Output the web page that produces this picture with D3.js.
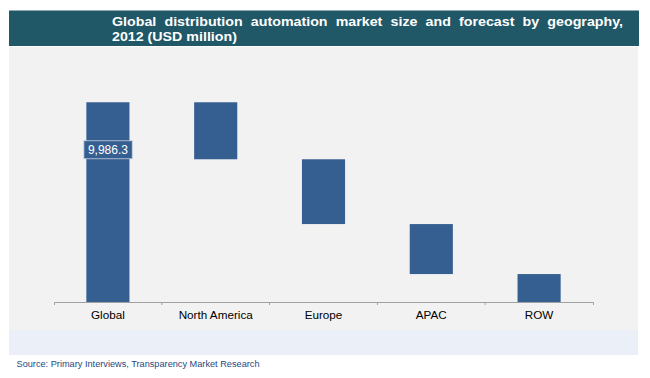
<!DOCTYPE html>
<html>
<head>
<meta charset="utf-8">
<script src="https://cdn.jsdelivr.net/npm/d3@7"></script>
<style>
  html, body { margin: 0; padding: 0; background: #ffffff; }
  svg { display: block; }
  text { font-family: "Liberation Sans", Arial, sans-serif; }
</style>
</head>
<body>
<svg id="chart" width="650" height="378"></svg>
<script>
const categories = ["Global", "North America", "Europe", "APAC", "ROW"];
const values = [9986.3, 2850, 3240, 2500, 1396.3];
const totalLabel = "9,986.3";
const titleLines = [
  "Global distribution automation market size and forecast by geography,",
  "2012 (USD million)"
];
const sourceText = "Source: Primary Interviews, Transparency Market Research";

const svg = d3.select("#chart");

// backgrounds
svg.append("rect").attr("x", 9).attr("y", 47).attr("width", 629).attr("height", 283).attr("fill", "#f2f2f2");
svg.append("rect").attr("x", 9).attr("y", 330).attr("width", 629).attr("height", 25).attr("fill", "#ebf0f8");
svg.append("rect").attr("x", 9).attr("y", 10.5).attr("width", 630).attr("height", 35.5).attr("fill", "#205868");

// title (slightly widened glyphs, first line justified)
const tg = svg.append("g");
const t2 = tg.append("text").attr("x", 0).attr("y", 41.2)
  .attr("fill", "#ffffff").attr("font-weight", "bold").attr("font-size", 13)
  .text(titleLines[1]);
const t1 = tg.append("text").attr("x", 0).attr("y", 26.5)
  .attr("fill", "#ffffff").attr("font-weight", "bold").attr("font-size", 13)
  .text(titleLines[0]);
const sx = 125 / t2.node().getComputedTextLength();
tg.attr("transform", `translate(112,0) scale(${sx},1)`);
const w1 = t1.node().getComputedTextLength();
const gaps = titleLines[0].split(" ").length - 1;
const extra = 511 / sx - w1;
if (extra > 0) t1.attr("word-spacing", extra / gaps);
else t1.attr("textLength", 511 / sx).attr("lengthAdjust", "spacingAndGlyphs");

// scales
const x = d3.scaleBand().domain(categories).range([54, 593]).paddingInner(0.6).paddingOuter(0.3);
const y = d3.scaleLinear().domain([0, 12000]).range([302, 62]);

// waterfall extents
const bars = [];
let level = values[0];
bars.push({cat: categories[0], y0: 0, y1: values[0]});
for (let i = 1; i < categories.length; i++) {
  bars.push({cat: categories[i], y0: level - values[i], y1: level});
  level -= values[i];
}

svg.append("g").selectAll("rect").data(bars).join("rect")
  .attr("x", d => x(d.cat))
  .attr("width", x.bandwidth())
  .attr("y", d => y(d.y1))
  .attr("height", d => y(d.y0) - y(d.y1))
  .attr("fill", "#365f91");

// axis
const axis = d3.axisBottom(x).tickSize(0).tickSizeOuter(3).tickPadding(9);
const ag = svg.append("g").attr("transform", `translate(0,${y(0)})`).call(axis);
ag.select(".domain").attr("stroke", "#a0a0a0");
ag.selectAll("text").attr("font-size", 11.7).attr("fill", "#000000")
  .attr("font-family", "'Liberation Sans', Arial, sans-serif");
const boundaries = categories.slice(1).map(c => x(c) - x.step() * x.paddingInner() / 2);
ag.selectAll("line.bound").data(boundaries).join("line")
  .attr("class", "bound")
  .attr("x1", d => d).attr("x2", d => d).attr("y1", 0).attr("y2", 3)
  .attr("stroke", "#a0a0a0");

// value label on Global
const gb = bars[0];
const lx = x(gb.cat) + x.bandwidth() / 2;
const ly = y(gb.y1) + 47.5;
const lbl = svg.append("g");
const lt = lbl.append("text").attr("x", lx).attr("y", ly).attr("dy", "0.35em")
  .attr("text-anchor", "middle").attr("fill", "#ffffff").attr("font-size", 12)
  .text(totalLabel);
const bb = lt.node().getBBox();
lbl.insert("rect", "text")
  .attr("x", bb.x - 4).attr("y", ly - 9).attr("width", bb.width + 8).attr("height", 18)
  .attr("fill", "#365f91").attr("stroke", "#c8d2df").attr("stroke-width", 0.8);

// source
svg.append("text").attr("x", 16.5).attr("y", 366.5)
  .attr("fill", "#1f497d").attr("font-size", 9.2)
  .text(sourceText);
</script>
</body>
</html>
